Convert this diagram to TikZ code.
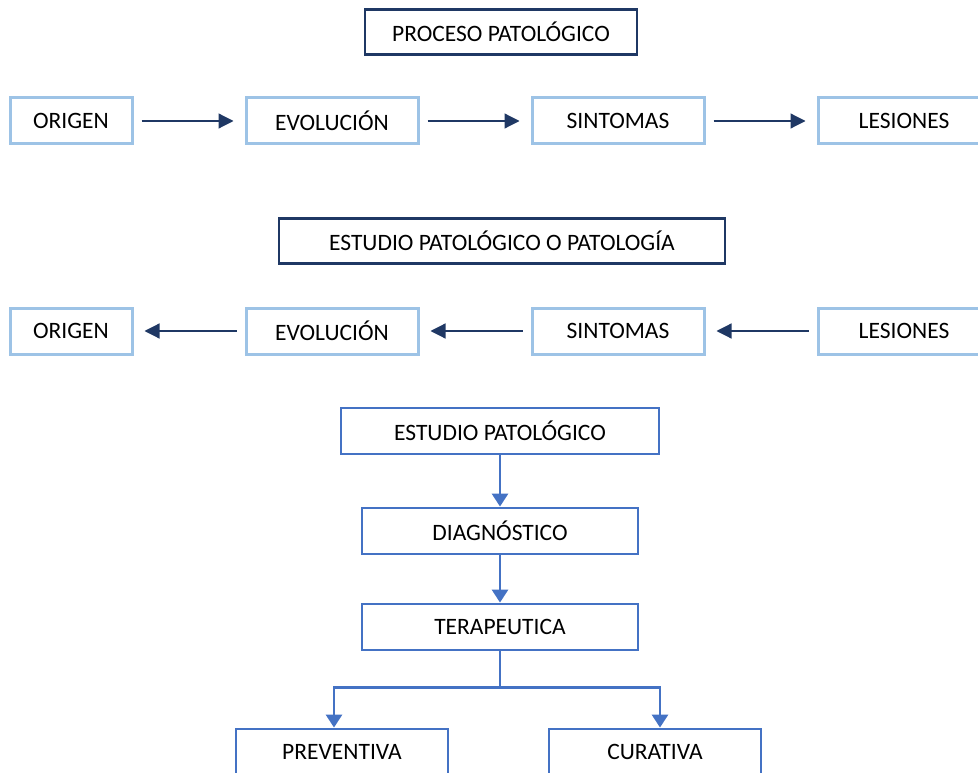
\documentclass[tikz,border=0pt]{standalone}
\usepackage{fontspec}
\setmainfont{Carlito}
\usetikzlibrary{positioning, arrows.meta}
\definecolor{navy}{HTML}{1F3864}
\definecolor{paleblue}{HTML}{9DC3E6}
\definecolor{midblue}{HTML}{4472C4}

\begin{document}
\begin{tikzpicture}[x=1pt, y=-1pt,
    heading/.style={draw=navy, line width=2.2pt, inner sep=0pt,
                    minimum width=#1, minimum height=45pt,
                    font=\fontsize{23.5}{28}\selectfont},
    stage/.style={draw=paleblue, line width=3pt, inner sep=0pt,
                  minimum width=#1, minimum height=46pt,
                  font=\fontsize{23.5}{28}\selectfont},
    stage/.default=172pt,
    flow/.style={-{Triangle[length=15pt, width=15pt]}, navy, line width=1.2pt,
                 shorten <=8pt, shorten >=11pt},
    branch/.style={draw=midblue, line width=2.8pt, inner sep=0pt,
                   minimum width=#1, minimum height=46pt,
                   font=\fontsize{23.5}{28}\selectfont},
    down/.style={-{Triangle[length=13pt, width=16pt]}, midblue, line width=2.8pt}
]
\useasboundingbox (0,0) rectangle (978,773);

% ---- Proceso patologico ----
\node[heading=272pt] (proc) at (501,32) {PROCESO PATOLÓGICO};
\node[stage=122pt] (origA) at (71,121)  {ORIGEN};
\node[stage]       (evolA) at (332,121) {EVOLUCIÓN};
\node[stage]       (sintA) at (618,121) {SINTOMAS};
\node[stage]       (lesiA) at (904,121) {LESIONES};
\draw[flow] (origA) -- (evolA);
\draw[flow] (evolA) -- (sintA);
\draw[flow] (sintA) -- (lesiA);

% ---- Estudio patologico o patologia ----
\node[heading=446pt] (estp) at (502,241) {ESTUDIO PATOLÓGICO O PATOLOGÍA};
\node[stage=122pt] (origB) at (71,331)  {ORIGEN};
\node[stage]       (evolB) at (332,331) {EVOLUCIÓN};
\node[stage]       (sintB) at (618,331) {SINTOMAS};
\node[stage]       (lesiB) at (904,331) {LESIONES};
\draw[flow] (lesiB) -- (sintB);
\draw[flow] (sintB) -- (evolB);
\draw[flow] (evolB) -- (origB);

% ---- Arbol ----
\node[branch=318pt] (estu) at (500,431) {ESTUDIO PATOLÓGICO};
\node[branch=276pt] (diag) at (500,531) {DIAGNÓSTICO};
\node[branch=276pt] (tera) at (500,627) {TERAPEUTICA};
\node[branch=212pt] (prev) at (342,752) {PREVENTIVA};
\node[branch=212pt] (cura) at (655,752) {CURATIVA};
\draw[down] (estu) -- (diag);
\draw[down] (diag) -- (tera);
\draw[down] (tera.south) -- ++(0,36) -| ([xshift=-8pt]prev.north);
\draw[down] (tera.south) -- ++(0,36) -| ([xshift=5pt]cura.north);

\end{tikzpicture}
\end{document}
